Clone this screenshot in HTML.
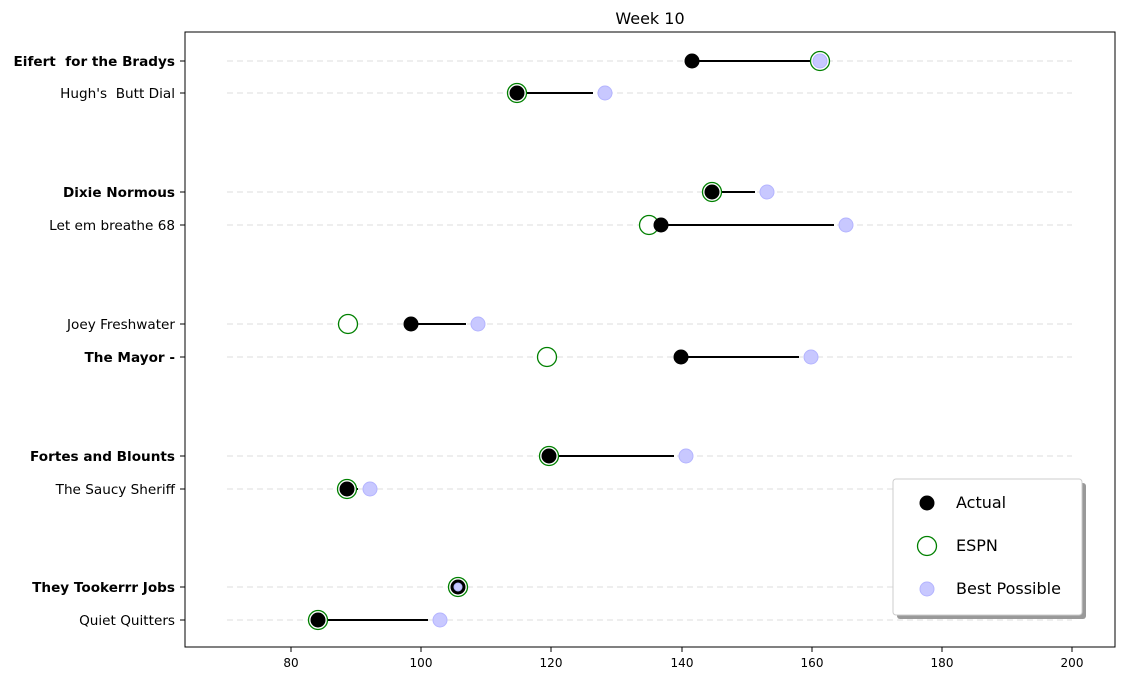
<!DOCTYPE html>
<html><head><style>body{margin:0;background:#fff}</style></head><body>
<svg width="1124" height="682" xmlns="http://www.w3.org/2000/svg" font-family="DejaVu Sans, Liberation Sans, sans-serif">
<rect width="1124" height="682" fill="#fff"/>
<text x="650" y="24" font-size="16" text-anchor="middle">Week 10</text>
<g stroke="#e3e3e3" stroke-width="1.2" stroke-dasharray="6,4">
<line x1="227" x2="1072" y1="61" y2="61"/><line x1="227" x2="1072" y1="93" y2="93"/>
<line x1="227" x2="1072" y1="192" y2="192"/><line x1="227" x2="1072" y1="225" y2="225"/>
<line x1="227" x2="1072" y1="324" y2="324"/><line x1="227" x2="1072" y1="357" y2="357"/>
<line x1="227" x2="1072" y1="456" y2="456"/><line x1="227" x2="1072" y1="489" y2="489"/>
<line x1="227" x2="1072" y1="587" y2="587"/><line x1="227" x2="1072" y1="620" y2="620"/>
</g>
<g stroke="#000" stroke-width="2">
<line x1="692" x2="810" y1="61" y2="61"/><line x1="517" x2="593" y1="93" y2="93"/>
<line x1="712" x2="755" y1="192" y2="192"/><line x1="661" x2="834" y1="225" y2="225"/>
<line x1="411" x2="466" y1="324" y2="324"/><line x1="681" x2="799" y1="357" y2="357"/>
<line x1="549" x2="674" y1="456" y2="456"/><line x1="347" x2="358" y1="489" y2="489"/>
<line x1="318" x2="428" y1="620" y2="620"/>
</g>
<g fill="#fff" stroke="green" stroke-width="1.3">
<circle cx="820" cy="61" r="9.5"/><circle cx="517" cy="93" r="9.5"/><circle cx="712" cy="192" r="9.5"/><circle cx="649" cy="225" r="9.5"/><circle cx="348" cy="324" r="9.5"/><circle cx="547" cy="357" r="9.5"/><circle cx="549" cy="456" r="9.5"/><circle cx="347" cy="489" r="9.5"/><circle cx="458" cy="587" r="9.5"/><circle cx="318" cy="620" r="9.5"/>
</g>
<g fill="#000">
<circle cx="692" cy="61" r="7.5"/><circle cx="517" cy="93" r="7.5"/><circle cx="712" cy="192" r="7.5"/><circle cx="661" cy="225" r="7.5"/><circle cx="411" cy="324" r="7.5"/><circle cx="681" cy="357" r="7.5"/><circle cx="549" cy="456" r="7.5"/><circle cx="347" cy="489" r="7.5"/><circle cx="458" cy="587" r="7.5"/><circle cx="318" cy="620" r="7.5"/>
</g>
<g fill="#c8c8ff" stroke="#b4b4ff" stroke-width="1">
<circle cx="820" cy="61" r="7"/><circle cx="605" cy="93" r="7"/><circle cx="767" cy="192" r="7"/><circle cx="846" cy="225" r="7"/><circle cx="478" cy="324" r="7"/><circle cx="811" cy="357" r="7"/><circle cx="686" cy="456" r="7"/><circle cx="370" cy="489" r="7"/><circle cx="458" cy="587" r="4"/><circle cx="440" cy="620" r="7"/>
</g>
<rect x="185" y="32" width="930" height="615" fill="none" stroke="#000" stroke-width="1"/>
<g font-size="13.6" text-anchor="end">
<text x="175" y="66" font-weight="bold">Eifert&#160; for the Bradys</text>
<text x="175" y="98">Hugh's&#160; Butt Dial</text>
<text x="175" y="197" font-weight="bold">Dixie Normous</text>
<text x="175" y="230">Let em breathe 68</text>
<text x="175" y="329">Joey Freshwater</text>
<text x="175" y="362" font-weight="bold">The Mayor -</text>
<text x="175" y="461" font-weight="bold">Fortes and Blounts</text>
<text x="175" y="494">The Saucy Sheriff</text>
<text x="175" y="592" font-weight="bold">They Tookerrr Jobs</text>
<text x="175" y="625">Quiet Quitters</text>
</g>
<g stroke="#000"><line x1="180" x2="185" y1="61" y2="61"/><line x1="180" x2="185" y1="93" y2="93"/><line x1="180" x2="185" y1="192" y2="192"/><line x1="180" x2="185" y1="225" y2="225"/><line x1="180" x2="185" y1="324" y2="324"/><line x1="180" x2="185" y1="357" y2="357"/><line x1="180" x2="185" y1="456" y2="456"/><line x1="180" x2="185" y1="489" y2="489"/><line x1="180" x2="185" y1="587" y2="587"/><line x1="180" x2="185" y1="620" y2="620"/>
<line x1="291" x2="291" y1="647" y2="652"/><line x1="421" x2="421" y1="647" y2="652"/><line x1="551" x2="551" y1="647" y2="652"/><line x1="682" x2="682" y1="647" y2="652"/><line x1="812" x2="812" y1="647" y2="652"/><line x1="942" x2="942" y1="647" y2="652"/><line x1="1072" x2="1072" y1="647" y2="652"/></g>
<g font-size="12" text-anchor="middle">
<text x="291" y="667">80</text><text x="421" y="667">100</text><text x="551" y="667">120</text><text x="682" y="667">140</text><text x="812" y="667">160</text><text x="942" y="667">180</text><text x="1072" y="667">200</text>
</g>
<rect x="897" y="483" width="189" height="136" rx="3" fill="#999"/>
<rect x="893" y="479" width="189" height="136" rx="3" fill="#fff" stroke="#ccc"/>
<circle cx="927" cy="503" r="7.5" fill="#000"/>
<circle cx="927" cy="546" r="9.5" fill="#fff" stroke="green" stroke-width="1.3"/>
<circle cx="927" cy="589" r="7" fill="#c8c8ff" stroke="#b4b4ff"/>
<g font-size="16"><text x="956" y="508">Actual</text><text x="956" y="551">ESPN</text><text x="956" y="594">Best Possible</text></g>
</svg>
</body></html>
